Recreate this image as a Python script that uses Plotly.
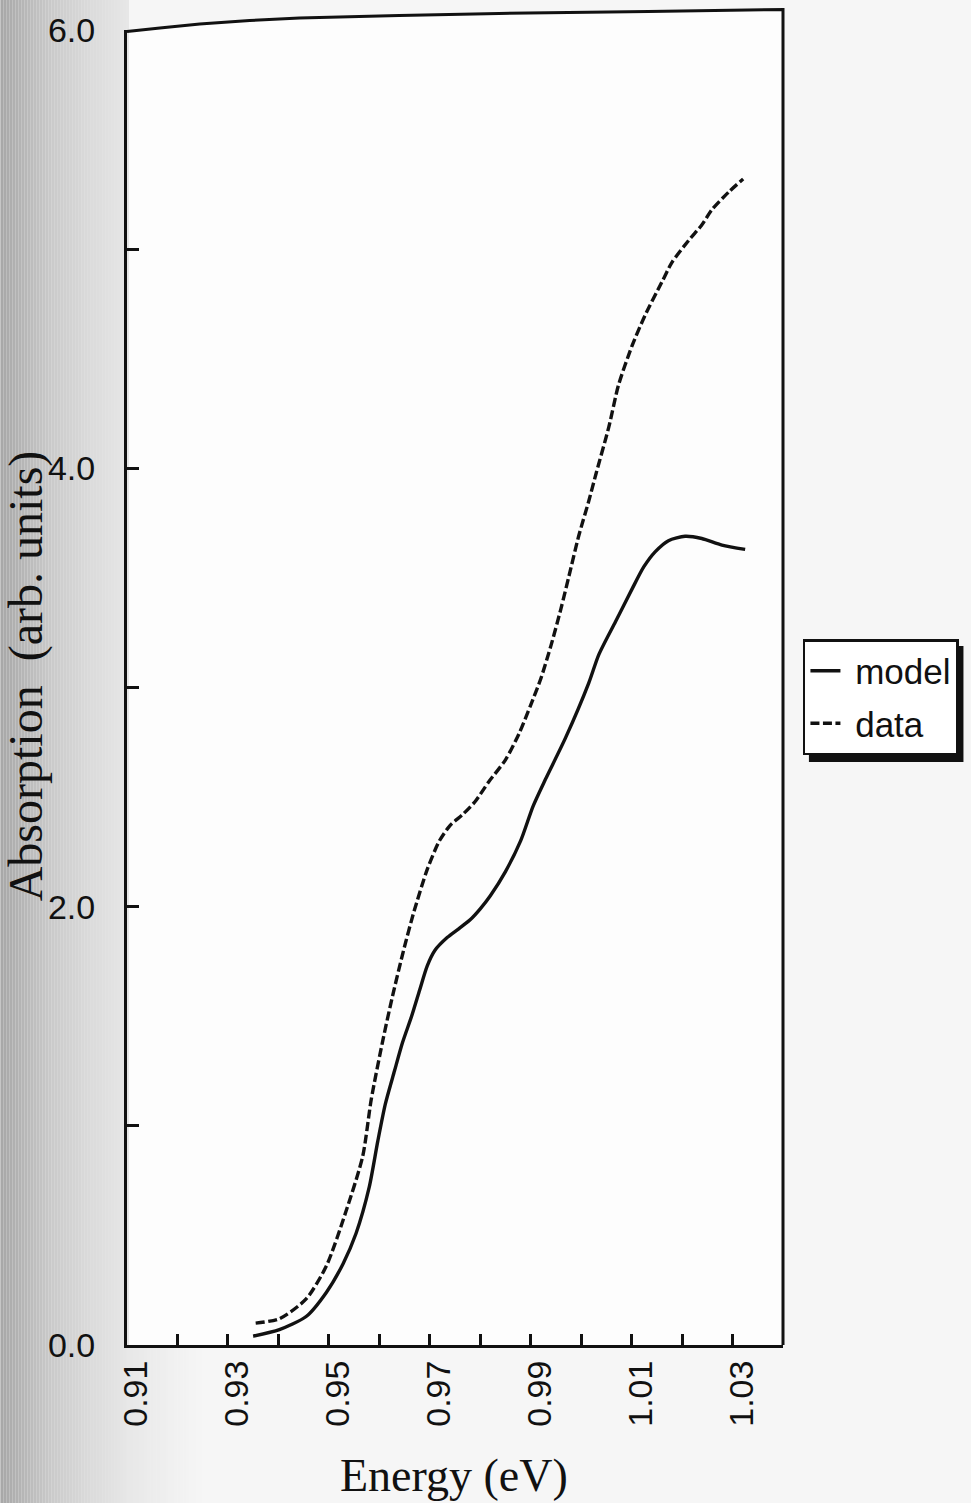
import plotly.graph_objects as go

# Modelled absorption spectrum
energy_model = [0.9350, 0.9402, 0.9455, 0.9495, 0.9528, 0.9554, 0.9580, 0.9597,
                0.9612, 0.9630, 0.9646, 0.9664, 0.9680, 0.9695, 0.9710, 0.9735,
                0.9758, 0.9780, 0.9800, 0.9820, 0.9850, 0.9880, 0.9905, 0.9929,
                0.9969, 1.0015, 1.0035, 1.0068, 1.0101, 1.0124, 1.0147, 1.0173,
                1.0206, 1.0239, 1.0279, 1.0325]
absorption_model = [0.04, 0.07, 0.13, 0.24, 0.37, 0.51, 0.72, 0.93,
                    1.10, 1.25, 1.38, 1.50, 1.62, 1.73, 1.80, 1.86,
                    1.90, 1.94, 1.99, 2.05, 2.16, 2.30, 2.46, 2.58,
                    2.77, 3.02, 3.15, 3.30, 3.45, 3.55, 3.62, 3.67,
                    3.69, 3.68, 3.65, 3.63]

# Measured absorption spectrum
energy_data = [0.9355, 0.9402, 0.9455, 0.9495, 0.9534, 0.9567, 0.9584, 0.9607,
               0.9626, 0.9648, 0.9669, 0.9695, 0.9719, 0.9740, 0.9765, 0.9790,
               0.9817, 0.9850, 0.9877, 0.9900, 0.9920, 0.9940, 0.9960, 0.9976,
               0.9995, 1.0015, 1.0030, 1.0055, 1.0074, 1.0101, 1.0127, 1.0160,
               1.0180, 1.0213, 1.0239, 1.0259, 1.0292, 1.0321]
absorption_data = [0.10, 0.12, 0.21, 0.36, 0.61, 0.86, 1.12, 1.39,
                   1.59, 1.80, 1.98, 2.17, 2.30, 2.37, 2.42, 2.48,
                   2.57, 2.67, 2.79, 2.92, 3.04, 3.19, 3.36, 3.51,
                   3.69, 3.85, 3.98, 4.19, 4.38, 4.56, 4.70, 4.85,
                   4.94, 5.04, 5.11, 5.18, 5.26, 5.32]

x_tick_values = [0.91, 0.92, 0.93, 0.94, 0.95, 0.96, 0.97, 0.98, 0.99, 1.00, 1.01, 1.02, 1.03]
x_tick_labels = ["0.91", "", "0.93", "", "0.95", "", "0.97", "", "0.99", "", "1.01", "", "1.03"]
y_tick_values = [0, 1, 2, 3, 4, 5, 6]
y_tick_labels = ["0.0", "", "2.0", "", "4.0", "", "6.0"]

W, H = 971, 1503
ML, MR, MT, MB = 127, 186, 30, 158
PW, PH = W - ML - MR, H - MT - MB
INK = "#111111"
SANS = "Liberation Sans, Arial, Helvetica, sans-serif"
SERIF = "Liberation Serif, Times New Roman, serif"


def px(xp):
    return (xp - ML) / PW


def py(yp):
    return (H - MB - yp) / PH


fig = go.Figure()
fig.add_trace(go.Scatter(x=energy_model, y=absorption_model, mode="lines", name="&nbsp;model",
                         legendgroup="model",
                         line=dict(color=INK, width=3.4, shape="spline", smoothing=0.7)))
fig.add_trace(go.Scatter(x=energy_data, y=absorption_data, mode="lines", name="&nbsp;data",
                         legendgroup="data",
                         line=dict(color=INK, width=3.4, dash="9px,3.5px",
                                   shape="spline", smoothing=0.7)))

shapes = []
# shaded page edge on the left
grey_stops = [(0, 168), (20, 182), (50, 203), (90, 220), (127, 232)]
for i in range(0, 127, 3):
    for (a, ca), (b, cb) in zip(grey_stops[:-1], grey_stops[1:]):
        if a <= i < b:
            c = int(ca + (cb - ca) * (i - a) / (b - a))
    shapes.append(dict(type="rect", xref="paper", yref="paper", layer="below",
                       x0=px(i), x1=px(i + 3), y0=py(H), y1=py(0),
                       fillcolor=f"rgb({c},{c},{c})", line=dict(width=0)))
for i in range(127, 200, 3):
    c = int(232 + (246 - 232) * (i - 127) / 73)
    shapes.append(dict(type="rect", xref="paper", yref="paper", layer="below",
                       x0=px(i), x1=px(i + 3), y0=py(H), y1=py(1348),
                       fillcolor=f"rgb({c},{c},{c})", line=dict(width=0)))

# top and right edges of the frame
top_pts = [(127, 31.5), (160, 28), (200, 24), (250, 20.5), (300, 18), (400, 15.5),
           (500, 13.5), (650, 11.5), (785, 9.5)]
fill_path = ("M " + " L ".join(f"{px(a):.5f},{py(b):.5f}" for a, b in top_pts)
             + f" L {px(785):.5f},{py(31):.5f} L {px(127):.5f},{py(31):.5f} Z")
shapes.append(dict(type="path", xref="paper", yref="paper", layer="below", path=fill_path,
                   fillcolor="#fdfdfd", line=dict(width=0)))
frame_pts = top_pts + [(785, 1345)]
path = "M " + " L ".join(f"{px(a):.5f},{py(b):.5f}" for a, b in frame_pts)
shapes.append(dict(type="path", xref="paper", yref="paper", path=path,
                   line=dict(color=INK, width=3)))

# legend drop shadow
shapes.append(dict(type="rect", xref="paper", yref="paper", layer="above",
                   x0=px(811), x1=px(966), y0=py(762), y1=py(646),
                   fillcolor=INK, line=dict(width=0)))

annotations = [
    dict(text="Absorption&nbsp; (arb. units)", xref="paper", yref="paper",
         x=px(26), y=py(676), textangle=-90, showarrow=False,
         xanchor="center", yanchor="middle",
         font=dict(family=SERIF, size=48, color=INK)),
    dict(text="Energy (eV)", xref="paper", yref="paper",
         x=px(455), y=py(1476), showarrow=False,
         xanchor="center", yanchor="middle",
         font=dict(family=SERIF, size=46, color=INK)),
]

fig.update_layout(
    width=W, height=H,
    margin=dict(l=ML, r=MR, t=MT, b=MB),
    paper_bgcolor="#f6f6f6",
    plot_bgcolor="#fdfdfd",
    shapes=shapes,
    annotations=annotations,
    showlegend=True,
    legend=dict(x=px(805), y=py(639), xanchor="left", yanchor="top",
                bgcolor="white", bordercolor=INK, borderwidth=2.5,
                font=dict(family=SANS, size=35, color=INK),
                itemwidth=30, tracegroupgap=4),
    xaxis=dict(range=[0.91, 1.04], showgrid=False, zeroline=False,
               showline=True, linecolor=INK, linewidth=3,
               tickmode="array", tickvals=x_tick_values, ticktext=x_tick_labels,
               ticks="inside", ticklen=11, tickwidth=2.5, tickcolor=INK,
               tickangle=-90, ticklabelshift=9, ticklabelstandoff=-1,
               tickfont=dict(family=SANS, size=34, color=INK)),
    yaxis=dict(range=[0, 6], showgrid=False, zeroline=False,
               showline=True, linecolor=INK, linewidth=3,
               tickmode="array", tickvals=y_tick_values, ticktext=y_tick_labels,
               ticks="inside", ticklen=12, tickwidth=2.5, tickcolor=INK,
               ticklabelstandoff=22,
               tickfont=dict(family=SANS, size=34, color=INK)),
)

fig.write_html("out.html")
